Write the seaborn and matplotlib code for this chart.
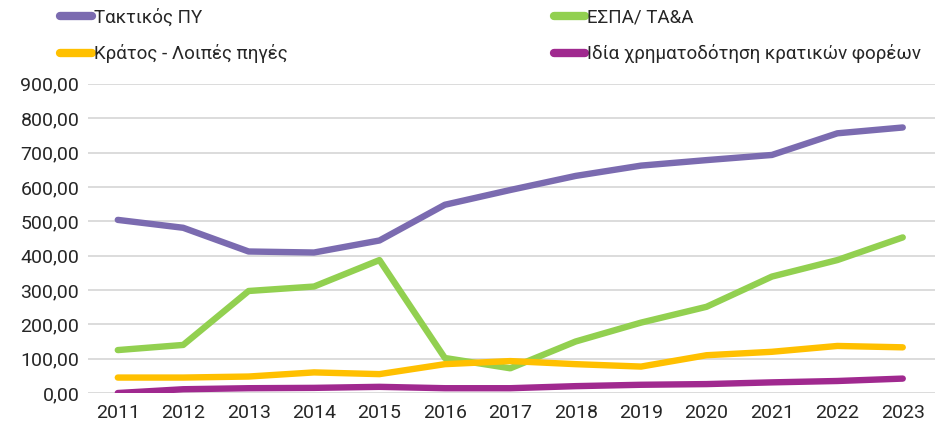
import pandas as pd
import matplotlib.pyplot as plt
import seaborn as sns
from matplotlib.ticker import FuncFormatter

years = list(range(2011, 2024))
taktikos = [504, 481, 412, 409, 444, 548, 591, 632, 662, 678, 693, 756, 773]
espa = [125, 140, 297, 310, 387, 102, 72, 150, 205, 251, 339, 387, 453]
kratos = [45, 45, 48, 60, 55, 84, 93, 84, 77, 110, 120, 137, 133]
idia = [0, 11, 14, 15, 18, 14, 14, 20, 24, 26, 31, 35, 42]

series_names = ["Τακτικός ΠΥ", "ΕΣΠΑ/ ΤΑ&Α", "Κράτος - Λοιπές πηγές",
                "Ιδία χρηματοδότηση κρατικών φορέων"]
colors = ["#7B6BB0", "#92D050", "#FFC000", "#A0298F"]

df = pd.DataFrame({"year": years})
for name, vals in zip(series_names, [taktikos, espa, kratos, idia]):
    df[name] = vals
long_df = df.melt(id_vars="year", var_name="series", value_name="value")
long_df["pos"] = long_df["year"] - years[0]

sns.set_style("white")
plt.rcParams['font.family'] = ['Roboto', 'DejaVu Sans']

fig, ax = plt.subplots(figsize=(9.43, 4.30), dpi=100)
fig.subplots_adjust(left=0.093, right=0.992, top=0.805, bottom=0.086)

sns.lineplot(data=long_df, x="pos", y="value", hue="series", hue_order=series_names,
             palette=colors, linewidth=4.6, ax=ax, solid_capstyle="round", legend=True)

ax.set_ylim(0, 900)
ax.set_yticks(range(0, 901, 100))
ax.yaxis.set_major_formatter(FuncFormatter(lambda v, p: f"{v:.2f}".replace(".", ",")))
ax.set_xlim(-0.46, len(years) - 1 + 0.5)
ax.set_xticks(range(len(years)))
ax.set_xticklabels([str(y) for y in years])
ax.grid(axis="y", color="#D9D9D9", linewidth=1.3)
ax.set_axisbelow(True)
ax.tick_params(axis="both", labelsize=14, colors="#262626", length=0)
ax.tick_params(axis="x", pad=8)
ax.tick_params(axis="y", pad=6)
for s in ax.spines.values():
    s.set_visible(False)
ax.set_xlabel("")
ax.set_ylabel("")

# legend in two columns placed separately: left = Τακτικός / Κράτος, right = ΕΣΠΑ / Ιδία
handles, labels = ax.get_legend_handles_labels()
ax.get_legend().remove()
for idx, x0 in [([0, 2], 0.062), ([1, 3], 0.585)]:
    leg = fig.legend([handles[i] for i in idx], [labels[i] for i in idx],
                     loc="upper left", bbox_to_anchor=(x0, 0.985), frameon=False,
                     fontsize=13.5, handlelength=1.7, handletextpad=0.1,
                     labelspacing=0.95, borderaxespad=0.0, borderpad=0.1)
    for line in leg.get_lines():
        line.set_linewidth(6)
        line.set_solid_capstyle("round")

fig.savefig("out.png", dpi=100)
